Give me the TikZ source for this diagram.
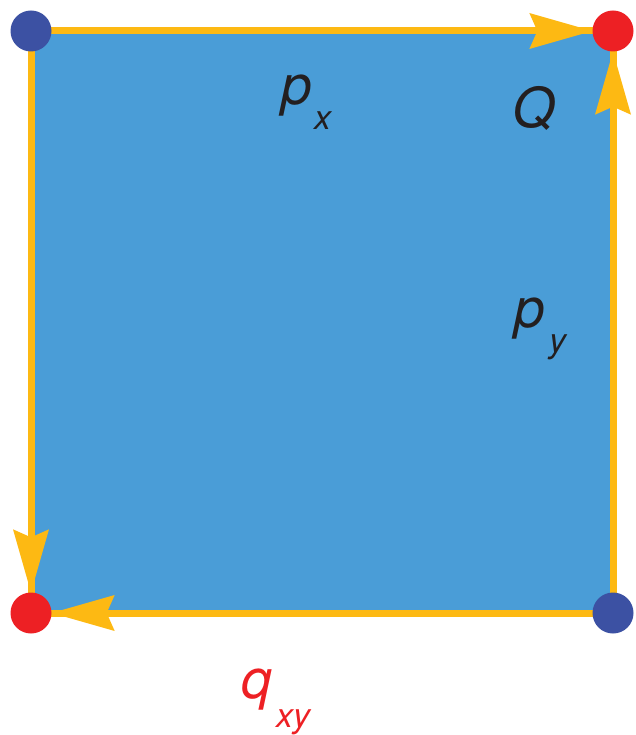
\documentclass[tikz,border=0pt]{standalone}
\usepackage{fontspec}
\setmainfont{TeX Gyre Heros}
\usetikzlibrary{arrows.meta,backgrounds}
\definecolor{sqblue}{HTML}{4A9DD7}
\definecolor{edgeyellow}{HTML}{FDB913}
\definecolor{dotred}{HTML}{ED2024}
\definecolor{dotblue}{HTML}{3C51A3}
\definecolor{txt}{HTML}{231F20}
\tikzset{
  corner/.style={circle,minimum size=41pt,inner sep=0pt,fill=#1},
  edge/.style={draw=edgeyellow,line width=7pt,
    -{Stealth[length=63pt,width=36pt,inset=8pt,line width=0pt,fill=edgeyellow]}},
  lbl/.style={inner sep=0pt,anchor=base west,text=txt,font=\fontsize{55}{60}\selectfont\itshape},
  sublbl/.style={inner sep=0pt,anchor=base west,text=txt,font=\fontsize{34}{40}\selectfont\itshape}
}
\begin{document}
\begin{tikzpicture}[x=1pt,y=-1pt]
\useasboundingbox (0,0) rectangle (635,735);
\node[corner=dotblue] (tl) at (31,31) {};
\node[corner=dotred] (tr) at (613,31) {};
\node[corner=dotblue] (br) at (613,613) {};
\node[corner=dotred] (bl) at (31,613) {};
\begin{scope}[on background layer]
  \filldraw[fill=sqblue,draw=edgeyellow,line width=7pt] (tl.center) rectangle (br.center);
\end{scope}
\draw[edge] (tl) -- (tr);
\draw[edge] (br) -- (tr);
\draw[edge] (br) -- (bl);
\draw[edge] (tl) -- (bl);
\node[lbl] (p1) at (281,105) {p};
\node[sublbl] (x1) at (314,130) {x};
\node[lbl] (Q) at (512,128) {Q};
\node[lbl] (p2) at (514,327) {p};
\node[sublbl] (y2) at (549,352) {y};
\node[lbl,text=dotred] (q) at (241,698) {q};
\node[sublbl,text=dotred] (xy) at (276,727) {xy};
\end{tikzpicture}
\end{document}
